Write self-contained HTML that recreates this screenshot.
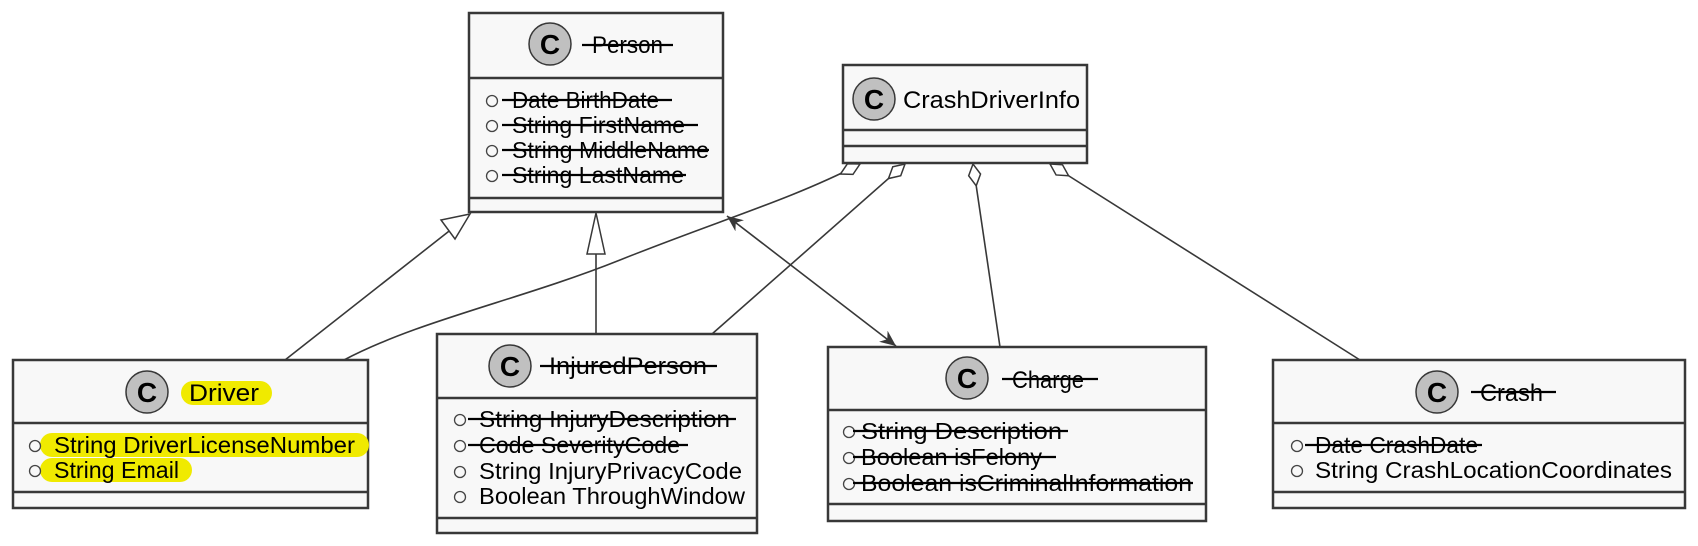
<!DOCTYPE html>
<html><head><meta charset="utf-8"><style>
html,body{margin:0;padding:0;background:#fff;}
svg{display:block;}
text{font-family:"Liberation Sans",sans-serif;fill:#000;}
.t{font-size:24px;}
.a{font-size:23px;}
.box{fill:#f8f8f8;stroke:#383838;stroke-width:2.5;}
.dv{stroke:#383838;stroke-width:2.5;}
.ln{stroke:#383838;stroke-width:1.6;fill:none;}
.st{stroke:#000;stroke-width:2.2;}
.ci{fill:none;stroke:#444;stroke-width:1.3;}
.cc{fill:#c0c0c0;stroke:#383838;stroke-width:1.5;}
.cl{font-size:28px;font-weight:bold;}
.hl{stroke:#f0ea00;stroke-linecap:round;}
</style></head><body>
<svg width="1698" height="546" viewBox="0 0 1698 546" xmlns="http://www.w3.org/2000/svg">
<defs>
<marker id="dia" markerWidth="26" markerHeight="16" refX="23" refY="8" orient="auto" markerUnits="userSpaceOnUse">
<path d="M1,8 L12,2 L23,8 L12,14 Z" fill="#fff" stroke="#383838" stroke-width="1.5"/>
</marker>
<marker id="arr" markerWidth="18" markerHeight="14" refX="16" refY="7" orient="auto-start-reverse" markerUnits="userSpaceOnUse">
<path d="M0,0 L16,7 L0,14 L5,7 Z" fill="#383838"/>
</marker>
</defs>

<!-- connectors -->
<line class="ln" x1="285" y1="360" x2="453" y2="228"/>
<path d="M470,214 L441,220 L455,239 Z" fill="#fff" stroke="#383838" stroke-width="1.5"/>
<line class="ln" x1="596" y1="334" x2="596" y2="254"/>
<path d="M596,213 L587,254 L605,254 Z" fill="#fff" stroke="#383838" stroke-width="1.5"/>
<line class="ln" x1="727" y1="216" x2="896" y2="346" marker-start="url(#arr)" marker-end="url(#arr)"/>
<path class="ln" d="M344,360 C420,320 520,300 620,260 C720,220 790,200 860,164" marker-end="url(#dia)"/>
<line class="ln" x1="712" y1="334" x2="905" y2="164" marker-end="url(#dia)"/>
<line class="ln" x1="1000" y1="347" x2="973" y2="164" marker-end="url(#dia)"/>
<line class="ln" x1="1360" y1="360" x2="1050" y2="164" marker-end="url(#dia)"/>

<!-- Person -->
<rect class="box" x="469" y="13" width="254" height="199"/>
<line class="dv" x1="469" y1="78" x2="723" y2="78"/><line class="dv" x1="469" y1="198" x2="723" y2="198"/>
<circle class="cc" cx="550" cy="44" r="21"/><text class="cl" x="550" y="54" text-anchor="middle">C</text>
<text class="t" x="592" y="53" textLength="71" lengthAdjust="spacingAndGlyphs">Person</text>
<line class="st" x1="582" y1="45" x2="673" y2="45"/>
<circle class="ci" cx="492" cy="101" r="5.5"/><text class="a" x="512" y="108" textLength="147" lengthAdjust="spacingAndGlyphs">Date BirthDate</text><line class="st" x1="502" y1="100" x2="672" y2="100"/>
<circle class="ci" cx="492" cy="126" r="5.5"/><text class="a" x="512" y="133" textLength="173" lengthAdjust="spacingAndGlyphs">String FirstName</text><line class="st" x1="502" y1="125" x2="698" y2="125"/>
<circle class="ci" cx="492" cy="151" r="5.5"/><text class="a" x="512" y="158" textLength="197" lengthAdjust="spacingAndGlyphs">String MiddleName</text><line class="st" x1="502" y1="150" x2="709" y2="150"/>
<circle class="ci" cx="492" cy="176" r="5.5"/><text class="a" x="512" y="183" textLength="172" lengthAdjust="spacingAndGlyphs">String LastName</text><line class="st" x1="502" y1="175" x2="686" y2="175"/>

<!-- CrashDriverInfo -->
<rect class="box" x="843" y="65" width="244" height="98"/>
<line class="dv" x1="843" y1="130" x2="1087" y2="130"/><line class="dv" x1="843" y1="146" x2="1087" y2="146"/>
<circle class="cc" cx="874" cy="99" r="21"/><text class="cl" x="874" y="109" text-anchor="middle">C</text>
<text class="t" x="903" y="108" textLength="177" lengthAdjust="spacingAndGlyphs">CrashDriverInfo</text>

<!-- Driver -->
<rect class="box" x="13" y="360" width="355" height="148"/>
<line class="dv" x1="13" y1="423" x2="368" y2="423"/><line class="dv" x1="13" y1="492" x2="368" y2="492"/>
<line class="hl" x1="193" y1="393" x2="260" y2="393" stroke-width="24"/>
<line class="hl" x1="52" y1="445" x2="357" y2="445" stroke-width="24"/>
<line class="hl" x1="52" y1="470" x2="180" y2="470" stroke-width="24"/>
<circle class="cc" cx="147" cy="392" r="21"/><text class="cl" x="147" y="402" text-anchor="middle">C</text>
<text class="t" x="189" y="401" textLength="70" lengthAdjust="spacingAndGlyphs">Driver</text>
<circle class="ci" cx="35" cy="446" r="5.5"/><text class="a" x="54" y="453" textLength="301" lengthAdjust="spacingAndGlyphs">String DriverLicenseNumber</text>
<circle class="ci" cx="35" cy="471" r="5.5"/><text class="a" x="54" y="478" textLength="125" lengthAdjust="spacingAndGlyphs">String Email</text>

<!-- InjuredPerson -->
<rect class="box" x="437" y="334" width="320" height="199"/>
<line class="dv" x1="437" y1="398" x2="757" y2="398"/><line class="dv" x1="437" y1="518" x2="757" y2="518"/>
<circle class="cc" cx="510" cy="366" r="21"/><text class="cl" x="510" y="376" text-anchor="middle">C</text>
<text class="t" x="549" y="374" textLength="158" lengthAdjust="spacingAndGlyphs">InjuredPerson</text>
<line class="st" x1="540" y1="366" x2="717" y2="366"/>
<circle class="ci" cx="460" cy="420" r="5.5"/><text class="a" x="479" y="427" textLength="251" lengthAdjust="spacingAndGlyphs">String InjuryDescription</text><line class="st" x1="468" y1="419" x2="736" y2="419"/>
<circle class="ci" cx="460" cy="446" r="5.5"/><text class="a" x="479" y="453" textLength="201" lengthAdjust="spacingAndGlyphs">Code SeverityCode</text><line class="st" x1="468" y1="445" x2="688" y2="445"/>
<circle class="ci" cx="460" cy="472" r="5.5"/><text class="a" x="479" y="479" textLength="263" lengthAdjust="spacingAndGlyphs">String InjuryPrivacyCode</text>
<circle class="ci" cx="460" cy="497" r="5.5"/><text class="a" x="479" y="504" textLength="266" lengthAdjust="spacingAndGlyphs">Boolean ThroughWindow</text>

<!-- Charge -->
<rect class="box" x="828" y="347" width="378" height="174"/>
<line class="dv" x1="828" y1="410" x2="1206" y2="410"/><line class="dv" x1="828" y1="504" x2="1206" y2="504"/>
<circle class="cc" cx="967" cy="378" r="21"/><text class="cl" x="967" y="388" text-anchor="middle">C</text>
<text class="t" x="1012" y="388" textLength="72" lengthAdjust="spacingAndGlyphs">Charge</text>
<line class="st" x1="1002" y1="379" x2="1098" y2="379"/>
<circle class="ci" cx="849" cy="432" r="5.5"/><text class="a" x="861" y="439" textLength="201" lengthAdjust="spacingAndGlyphs">String Description</text><line class="st" x1="853" y1="431" x2="1068" y2="431"/>
<circle class="ci" cx="849" cy="458" r="5.5"/><text class="a" x="861" y="465" textLength="181" lengthAdjust="spacingAndGlyphs">Boolean isFelony</text><line class="st" x1="853" y1="457" x2="1056" y2="457"/>
<circle class="ci" cx="849" cy="484" r="5.5"/><text class="a" x="861" y="491" textLength="331" lengthAdjust="spacingAndGlyphs">Boolean isCriminalInformation</text><line class="st" x1="853" y1="483" x2="1193" y2="483"/>

<!-- Crash -->
<rect class="box" x="1273" y="360" width="412" height="148"/>
<line class="dv" x1="1273" y1="423" x2="1685" y2="423"/><line class="dv" x1="1273" y1="492" x2="1685" y2="492"/>
<circle class="cc" cx="1437" cy="392" r="21"/><text class="cl" x="1437" y="402" text-anchor="middle">C</text>
<text class="t" x="1480" y="401" textLength="63" lengthAdjust="spacingAndGlyphs">Crash</text>
<line class="st" x1="1471" y1="392" x2="1556" y2="392"/>
<circle class="ci" cx="1297" cy="446" r="5.5"/><text class="a" x="1315" y="453" textLength="163" lengthAdjust="spacingAndGlyphs">Date CrashDate</text><line class="st" x1="1305" y1="445" x2="1482" y2="445"/>
<circle class="ci" cx="1297" cy="471" r="5.5"/><text class="a" x="1315" y="478" textLength="357" lengthAdjust="spacingAndGlyphs">String CrashLocationCoordinates</text>
</svg>
</body></html>
